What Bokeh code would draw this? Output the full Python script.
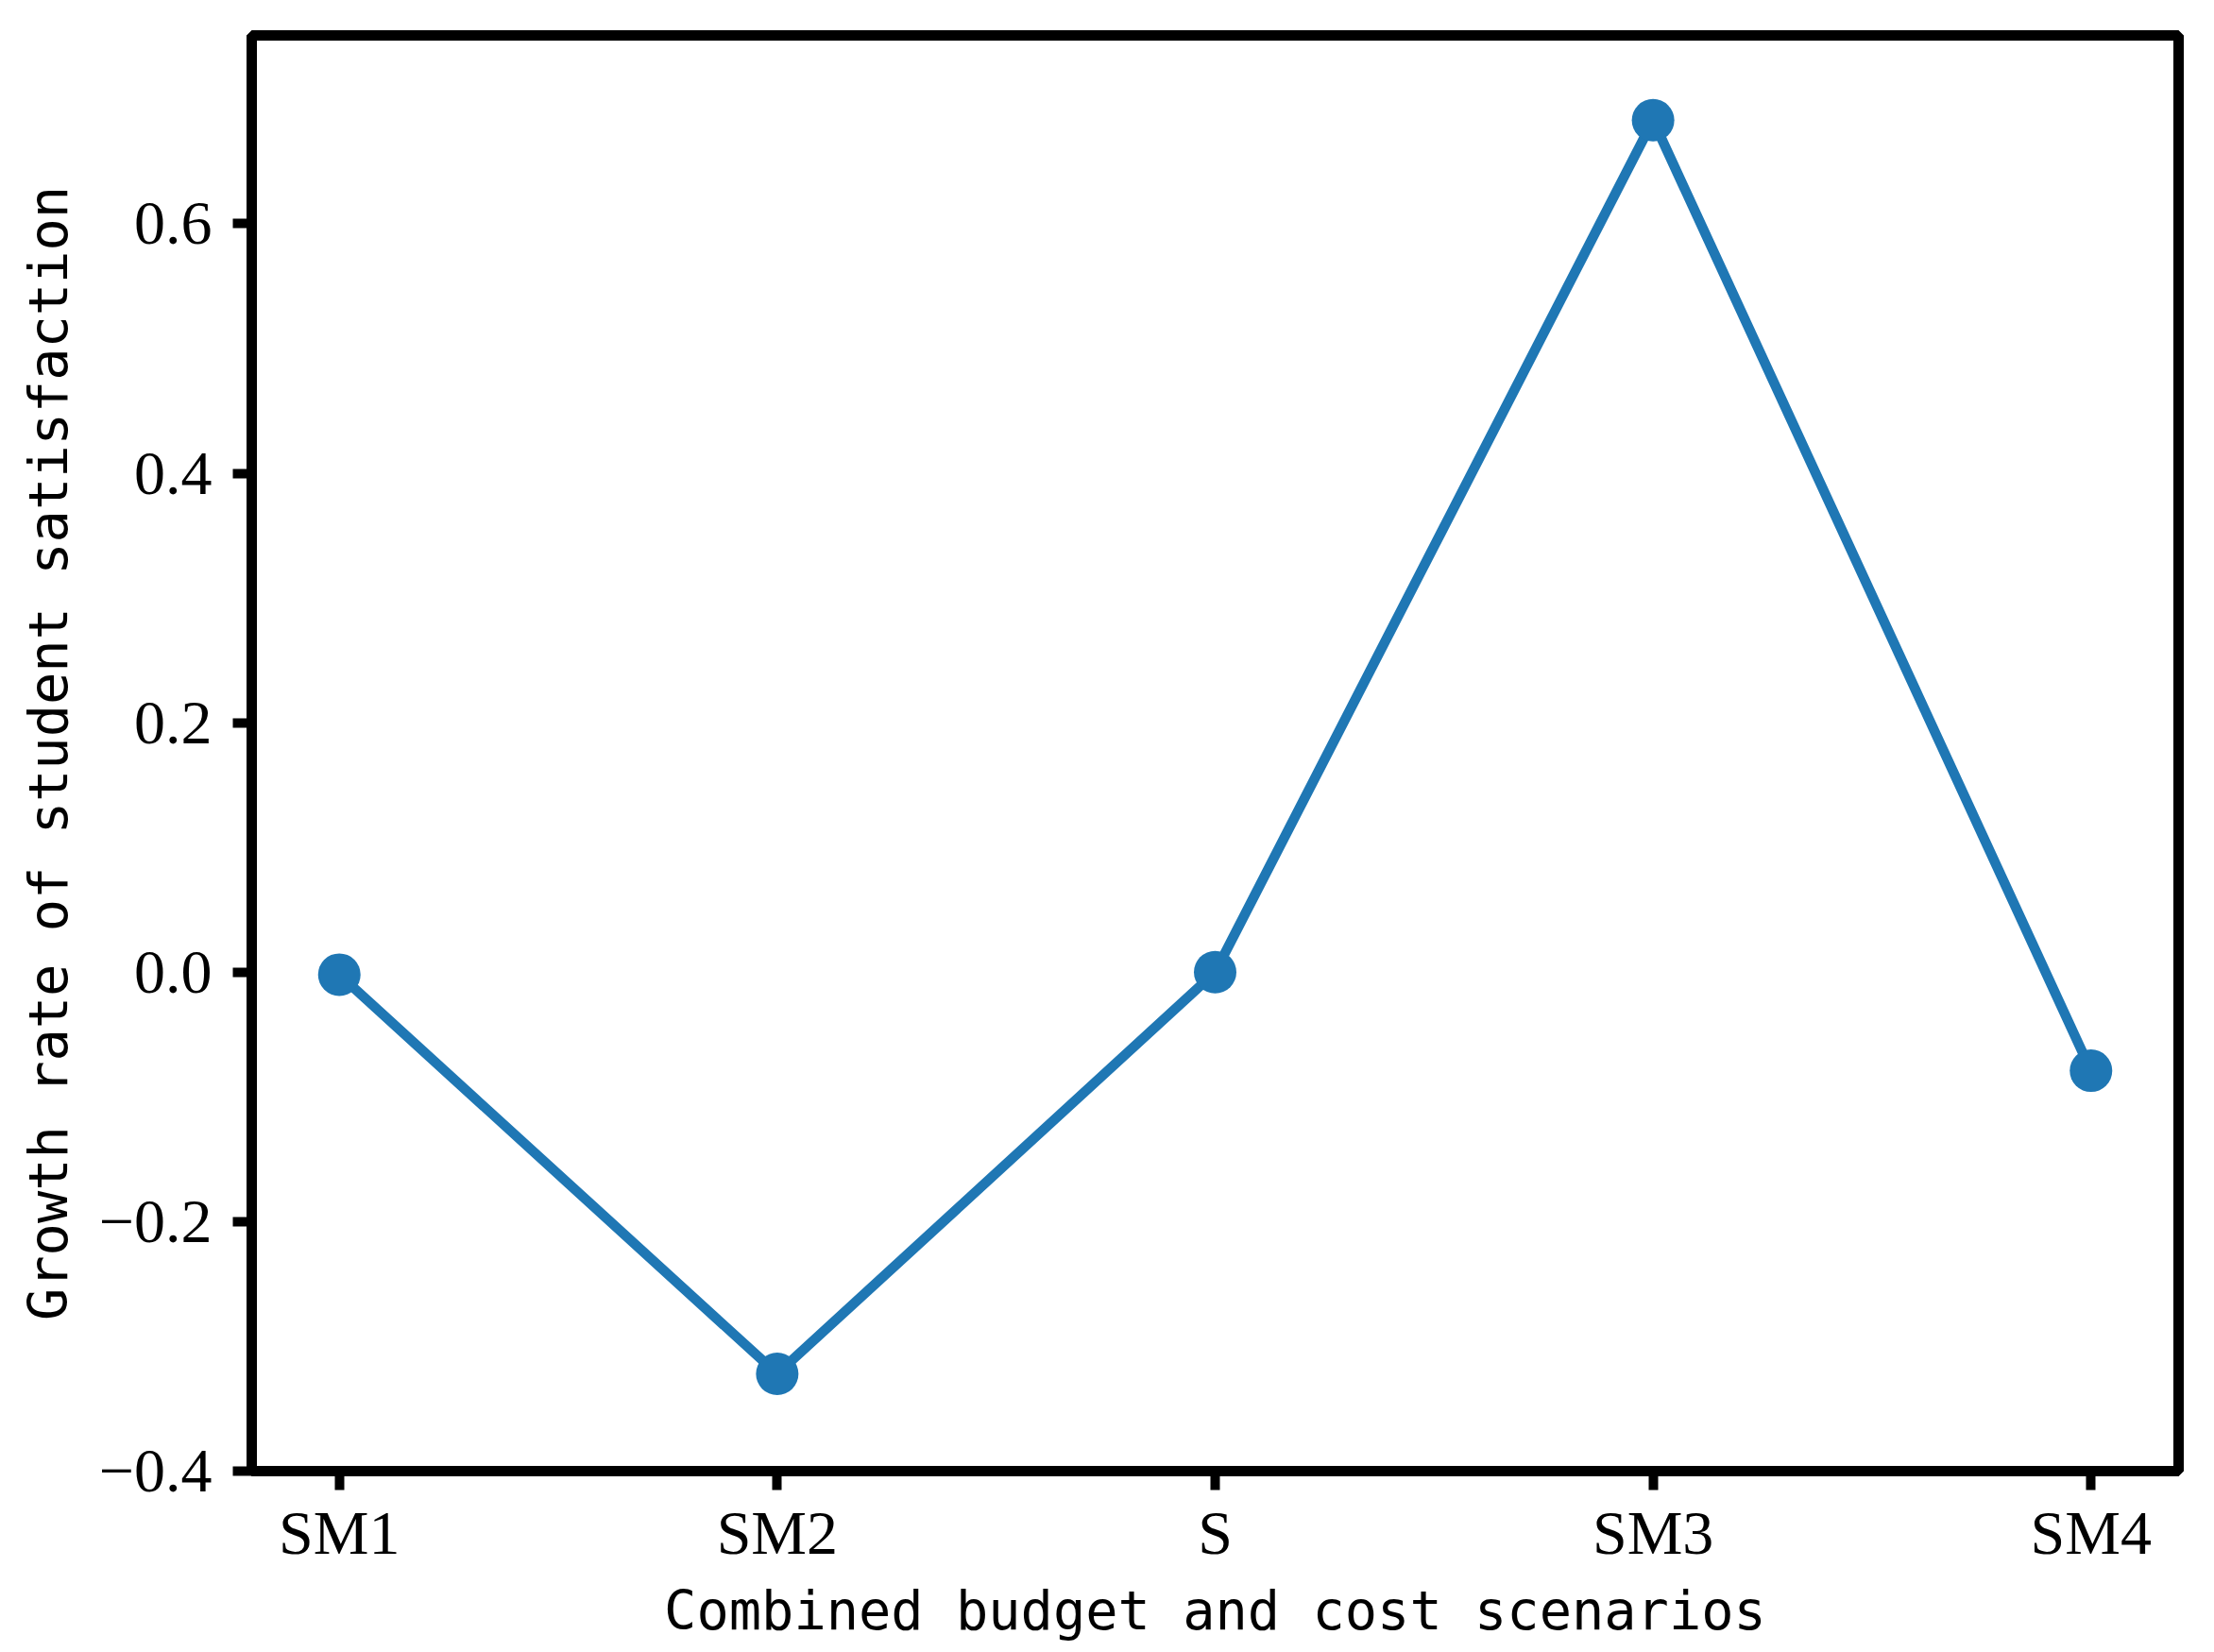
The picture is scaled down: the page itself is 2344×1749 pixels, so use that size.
from bokeh.plotting import figure
from bokeh.models import Range1d, FixedTicker
from bokeh.embed import file_html
from bokeh.resources import INLINE

categories = ["SM1", "SM2", "S", "SM3", "SM4"]
growth_rate = [-0.002, -0.322, 0.0, 0.683, -0.079]
y_ticks = [-0.4, -0.2, 0.0, 0.2, 0.4, 0.6]
y_tick_labels = ["\u22120.4", "\u22120.2", "0.0", "0.2", "0.4", "0.6"]
x_title = "Combined budget and cost scenarios"
y_title = "Growth rate of student satisfaction"

xs = list(range(len(categories)))

p = figure(frame_width=2040, frame_height=1520,
           min_border_left=266, min_border_right=22,
           min_border_top=37, min_border_bottom=176,
           x_range=Range1d(-0.2, 4.2), y_range=Range1d(-0.4, 0.751),
           output_backend="svg", toolbar_location=None)

p.background_fill_color = "white"
p.border_fill_color = "white"
p.grid.visible = False
p.outline_line_color = "black"
p.outline_line_width = 11

color = "#1f77b4"
p.line(xs, growth_rate, line_color=color, line_width=10.5)
p.scatter(xs, growth_rate, size=45, fill_color=color, line_color=color, line_width=0)

for ax in (p.xaxis[0], p.yaxis[0]):
    ax.axis_line_color = "black"
    ax.axis_line_width = 11
    ax.major_tick_out = 20
    ax.major_tick_in = 0
    ax.major_tick_line_width = 10
    ax.major_tick_line_color = "black"
    ax.minor_tick_line_color = None
    ax.major_label_text_font = "Liberation Serif"
    ax.major_label_text_font_size = "66px"
    ax.major_label_text_color = "black"
    ax.axis_label_text_font = "DejaVu Sans Mono"
    ax.axis_label_text_font_size = "57px"
    ax.axis_label_text_font_style = "normal"
    ax.axis_label_text_color = "black"

p.xaxis.ticker = FixedTicker(ticks=xs)
p.xaxis.major_label_overrides = {i: c for i, c in zip(xs, categories)}
p.xaxis.major_label_standoff = 8
p.xaxis.axis_label = x_title
p.xaxis.axis_label_standoff = 10

p.yaxis.ticker = FixedTicker(ticks=y_ticks)
p.yaxis.major_label_overrides = {t: l for t, l in zip(y_ticks, y_tick_labels)}
p.yaxis.major_label_standoff = 22
p.yaxis.axis_label = y_title
p.yaxis.axis_label_standoff = 18

open("out.html", "w").write(file_html(p, INLINE))
